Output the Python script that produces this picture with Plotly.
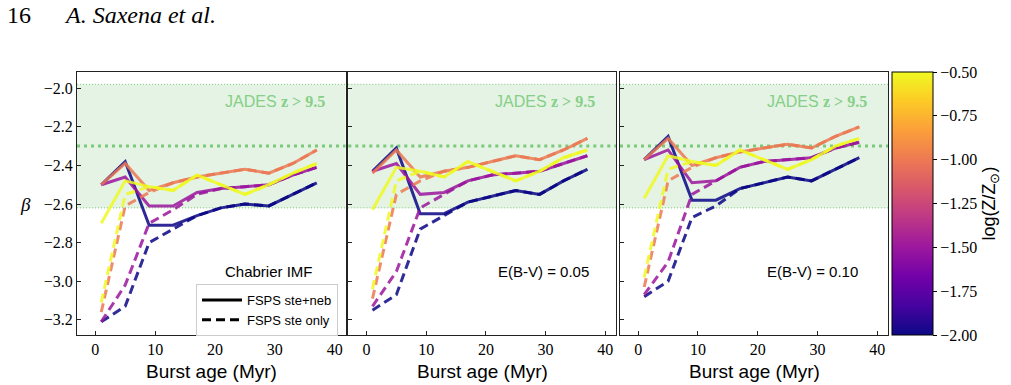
import plotly.graph_objects as go

# ---------------- data ----------------
ages = [1, 5, 9, 13, 17, 21, 25, 29, 33, 37]
logZ = [-2.0, -1.5, -1.0, -0.5]
panel_labels = ["Chabrier IMF", "E(B-V) = 0.05", "E(B-V) = 0.10"]

# panel 1: Chabrier IMF (no dust)
p1_neb = [
    [-2.50, -2.38, -2.71, -2.71, -2.66, -2.62, -2.60, -2.61, -2.55, -2.49],
    [-2.50, -2.46, -2.61, -2.61, -2.54, -2.52, -2.51, -2.50, -2.45, -2.41],
    [-2.50, -2.39, -2.53, -2.49, -2.46, -2.44, -2.42, -2.44, -2.39, -2.32],
    [-2.70, -2.48, -2.51, -2.53, -2.45, -2.50, -2.55, -2.50, -2.44, -2.39],
]
p1_ste = [
    [-3.21, -3.13, -2.80, -2.73, -2.66, -2.62, -2.60, -2.61, -2.55, -2.49],
    [-3.21, -3.02, -2.70, -2.63, -2.55, -2.52, -2.51, -2.50, -2.45, -2.41],
    [-3.16, -2.61, -2.54, -2.49, -2.46, -2.44, -2.42, -2.44, -2.39, -2.32],
    [-3.11, -2.55, -2.51, -2.53, -2.45, -2.50, -2.55, -2.50, -2.44, -2.39],
]
# panel 2: E(B-V) = 0.05
p2_neb = [
    [-2.43, -2.31, -2.65, -2.65, -2.59, -2.56, -2.53, -2.55, -2.48, -2.42],
    [-2.43, -2.39, -2.55, -2.54, -2.48, -2.45, -2.44, -2.43, -2.39, -2.35],
    [-2.44, -2.32, -2.46, -2.43, -2.41, -2.38, -2.35, -2.37, -2.32, -2.26],
    [-2.63, -2.41, -2.43, -2.46, -2.38, -2.43, -2.48, -2.43, -2.36, -2.32],
]
p2_ste = [
    [-3.15, -3.07, -2.73, -2.66, -2.59, -2.56, -2.53, -2.55, -2.48, -2.42],
    [-3.13, -2.95, -2.62, -2.55, -2.48, -2.45, -2.44, -2.43, -2.39, -2.35],
    [-3.09, -2.55, -2.48, -2.43, -2.41, -2.38, -2.35, -2.37, -2.32, -2.26],
    [-3.04, -2.48, -2.43, -2.46, -2.38, -2.43, -2.48, -2.43, -2.36, -2.32],
]
# panel 3: E(B-V) = 0.10
p3_neb = [
    [-2.37, -2.25, -2.58, -2.58, -2.52, -2.49, -2.46, -2.48, -2.42, -2.36],
    [-2.37, -2.32, -2.49, -2.48, -2.41, -2.38, -2.37, -2.36, -2.31, -2.28],
    [-2.37, -2.26, -2.40, -2.36, -2.33, -2.31, -2.29, -2.31, -2.25, -2.20],
    [-2.57, -2.35, -2.38, -2.40, -2.32, -2.37, -2.42, -2.37, -2.30, -2.26],
]
p3_ste = [
    [-3.08, -3.00, -2.67, -2.61, -2.52, -2.49, -2.46, -2.48, -2.42, -2.36],
    [-3.07, -2.90, -2.55, -2.48, -2.41, -2.38, -2.37, -2.36, -2.31, -2.28],
    [-3.03, -2.48, -2.41, -2.36, -2.33, -2.31, -2.29, -2.31, -2.25, -2.20],
    [-2.98, -2.42, -2.38, -2.40, -2.32, -2.37, -2.42, -2.37, -2.30, -2.26],
]

jades_low, jades_mid, jades_high = -2.62, -2.30, -1.98

ytick_vals = [-3.2, -3.0, -2.8, -2.6, -2.4, -2.2, -2.0]
ytick_text = ["\u22123.2", "\u22123.0", "\u22122.8", "\u22122.6", "\u22122.4", "\u22122.2", "\u22122.0"]
xtick_vals = [0, 10, 20, 30, 40]
cb_vals = [-2.0, -1.75, -1.5, -1.25, -1.0, -0.75, -0.5]
cb_text = ["\u22122.00", "\u22121.75", "\u22121.50", "\u22121.25", "\u22121.00", "\u22120.75", "\u22120.50"]

# ---------------- styling ----------------
W, H = 1011, 385
def fx(p): return p / W
def fy(p): return 1 - p / H

plasma = ["#0d0887", "#9c179e", "#ed7953", "#f0f921"]
SANS = "Liberation Sans"
SERIF = "Liberation Serif"
GREEN_LINE = "#7cc97c"
GREEN_TXT = "#86cf86"

domains = [(77, 345.5), (348.3, 616), (620, 888)]
ydom = [fy(334.5), fy(72)]
xr = [-3.05, 41.8]
yr = [-3.276, -1.916]

fig = go.Figure()
panels = [(p1_neb, p1_ste), (p2_neb, p2_ste), (p3_neb, p3_ste)]
for i, (neb, ste) in enumerate(panels):
    xa = "x" if i == 0 else f"x{i+1}"
    ya = "y" if i == 0 else f"y{i+1}"
    for k in range(len(logZ)):
        fig.add_trace(go.Scatter(x=ages, y=ste[k], mode="lines", xaxis=xa, yaxis=ya,
                                 line=dict(color=plasma[k], width=3, dash="9px,5px"),
                                 opacity=0.85, showlegend=False, hoverinfo="skip"))
        fig.add_trace(go.Scatter(x=ages, y=neb[k], mode="lines", xaxis=xa, yaxis=ya,
                                 line=dict(color=plasma[k], width=3),
                                 opacity=0.85, showlegend=False, hoverinfo="skip"))

# legend entries
fig.add_trace(go.Scatter(x=[None], y=[None], mode="lines", name="FSPS ste+neb",
                         line=dict(color="black", width=3)))
fig.add_trace(go.Scatter(x=[None], y=[None], mode="lines", name="FSPS ste only",
                         line=dict(color="black", width=3, dash="9px,5px")))

# colorbar carrier
fig.add_trace(go.Scatter(x=[-100], y=[-100], mode="markers", showlegend=False, hoverinfo="skip",
                         marker=dict(size=1, color=[logZ[0]], cmin=-2.0, cmax=-0.5,
                                     colorscale="Plasma", showscale=True,
                                     colorbar=dict(x=fx(891.5), xanchor="left", xpad=0,
                                                   y=fy(72), yanchor="top", ypad=0,
                                                   len=262.5, lenmode="pixels",
                                                   thickness=41, thicknessmode="pixels",
                                                   outlinewidth=1, outlinecolor="black",
                                                   tickvals=cb_vals, ticktext=cb_text,
                                                   ticks="outside", ticklen=4, tickcolor="black",
                                                   tickfont=dict(family=SERIF, size=16, color="black"),
                                                   title=dict(text="log(Z/Z<sub>\u2299</sub>)", side="right",
                                                              font=dict(family=SANS, size=18, color="black"))))))

shapes = []
annotations = []
for i in range(3):
    sfx = "" if i == 0 else str(i + 1)
    xkey = "xaxis" + sfx
    ykey = "yaxis" + sfx
    fig.layout[xkey] = dict(domain=[fx(domains[i][0]), fx(domains[i][1])], range=xr,
                            anchor="y" + sfx, showgrid=False, zeroline=False,
                            showline=True, mirror=True, linecolor="#222", linewidth=1,
                            ticks="inside", ticklen=4, tickcolor="#222",
                            tickvals=xtick_vals, ticktext=[str(v) for v in xtick_vals],
                            tickfont=dict(family=SERIF, size=16, color="black"))
    fig.layout[ykey] = dict(domain=ydom, range=yr, anchor="x" + sfx, showgrid=False,
                            zeroline=False, showline=True, mirror=True, linecolor="#222",
                            linewidth=1, ticks="inside", ticklen=4, tickcolor="#222",
                            tickvals=ytick_vals, ticktext=ytick_text,
                            showticklabels=(i == 0),
                            tickfont=dict(family=SERIF, size=16, color="black"))
    xref = "x" + sfx + " domain"
    yref = "y" + sfx
    shapes.append(dict(type="rect", xref=xref, yref=yref, x0=0, x1=1, y0=jades_low, y1=jades_high,
                       fillcolor="rgba(44,160,44,0.13)", line=dict(width=0), layer="below"))
    for yv in (jades_low, jades_high):
        shapes.append(dict(type="line", xref=xref, yref=yref, x0=0, x1=1, y0=yv, y1=yv,
                           line=dict(color=GREEN_LINE, width=1, dash="1px,2px"), layer="below"))
    shapes.append(dict(type="line", xref=xref, yref=yref, x0=0, x1=1, y0=jades_mid, y1=jades_mid,
                       line=dict(color=GREEN_LINE, width=3, dash="3px,4px"), layer="below"))
    right = domains[i][1]
    annotations.append(dict(xref="paper", yref="paper", x=fx(right - 19), y=fy(102),
                            xanchor="right", yanchor="middle", showarrow=False,
                            text="JADES <span style='font-family:Liberation Serif;font-weight:bold'>z &gt; 9.5</span>",
                            font=dict(family=SANS, size=16, color=GREEN_TXT)))
    lab_right = [315, 591, 860][i]
    annotations.append(dict(xref="paper", yref="paper", x=fx(lab_right), y=fy(271),
                            xanchor="right", yanchor="middle", showarrow=False,
                            text=panel_labels[i], font=dict(family=SANS, size=15, color="black")))
    annotations.append(dict(xref="paper", yref="paper", x=fx((domains[i][0] + domains[i][1]) / 2),
                            y=fy(371), xanchor="center", yanchor="middle", showarrow=False,
                            text="Burst age (Myr)", font=dict(family=SANS, size=19, color="black")))

annotations.append(dict(xref="paper", yref="paper", x=fx(25), y=fy(205), xanchor="center",
                        yanchor="middle", showarrow=False, text="<i>\u03b2</i>",
                        font=dict(family=SERIF, size=19, color="black")))
annotations.append(dict(xref="paper", yref="paper", x=fx(5), y=fy(15), xanchor="left",
                        yanchor="middle", showarrow=False, text="16",
                        font=dict(family=SERIF, size=24, color="black")))
annotations.append(dict(xref="paper", yref="paper", x=fx(62), y=fy(15), xanchor="left",
                        yanchor="middle", showarrow=False, text="<i>A. Saxena et al.</i>",
                        font=dict(family=SERIF, size=24, color="black")))

fig.update_layout(width=W, height=H, margin=dict(l=0, r=0, t=0, b=0),
                  paper_bgcolor="white", plot_bgcolor="white",
                  shapes=shapes, annotations=annotations,
                  showlegend=True,
                  legend=dict(x=fx(338), y=fy(284), xanchor="right", yanchor="top",
                              bgcolor="white", bordercolor="#cccccc", borderwidth=1,
                              font=dict(family=SANS, size=13, color="black"),
                              tracegroupgap=0, itemwidth=40))

fig.write_html("out.html")
